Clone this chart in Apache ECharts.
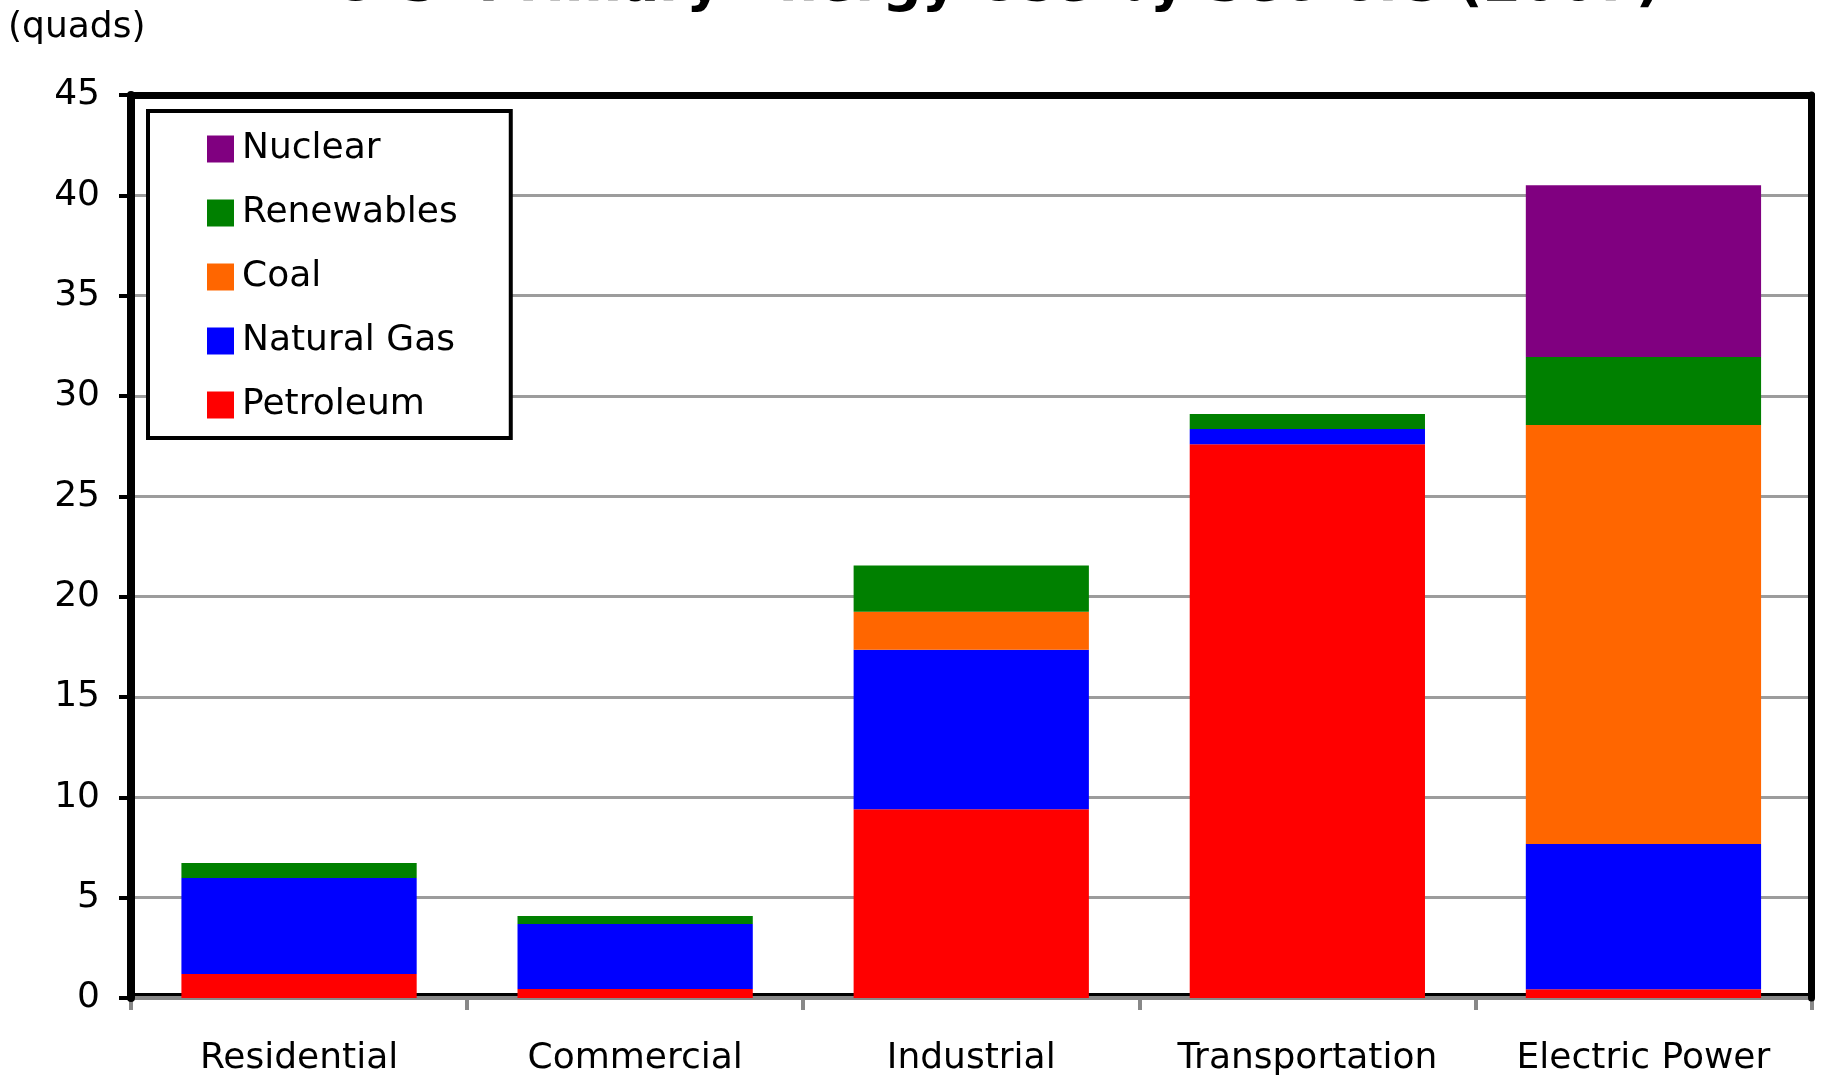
<!DOCTYPE html>
<html>
<head>
<meta charset="utf-8">
<script src="https://cdn.jsdelivr.net/npm/echarts@6/dist/echarts.min.js"></script>
<style>
html,body{margin:0;padding:0;background:#fff;}
#chart{width:1845px;height:1081px;}
</style>
</head>
<body>
<div id="chart"></div>
<script>
const titleText = 'U.S. Primary Energy Use by Sectors (2007)';
const unitText = '(quads)';
const categories = ['Residential', 'Commercial', 'Industrial', 'Transportation', 'Electric Power'];
const petroleum = [1.2, 0.45, 9.4, 27.6, 0.43];
const naturalGas = [4.78, 3.24, 7.95, 0.75, 7.24];
const coal = [0, 0, 1.9, 0, 20.88];
const renewables = [0.75, 0.4, 2.3, 0.75, 3.39];
const nuclear = [0, 0, 0, 0, 8.56];
const legendOrder = ['Nuclear', 'Renewables', 'Coal', 'Natural Gas', 'Petroleum'];

const FONT = '"DejaVu Sans", sans-serif';
const chart = echarts.init(document.getElementById('chart'));

function barSeries(name, data, color) {
  return {
    name: name, type: 'bar', stack: 'total', data: data, barWidth: '70%',
    xAxisIndex: 0, yAxisIndex: 0, z: 2,
    itemStyle: { color: color }, emphasis: { disabled: true }
  };
}

const hidden = { axisTick: { show: false }, axisLabel: { show: false }, splitLine: { show: false } };

chart.setOption({
  animation: false,
  backgroundColor: '#ffffff',
  graphic: [
    { type: 'text', x: 997, y: -14, z: 10,
      style: { text: titleText, font: 'bold 55px ' + FONT, fill: '#000', textAlign: 'center', textVerticalAlign: 'middle' } },
    { type: 'text', x: 8, y: 27.6, z: 10,
      style: { text: unitText, font: '36px ' + FONT, fill: '#000', textAlign: 'left', textVerticalAlign: 'middle' } }
  ],
  grid: { left: 131, right: 33.5, top: 95, bottom: 83, show: false },
  legend: {
    orient: 'vertical', left: 148, top: 111, z: 20,
    data: legendOrder,
    itemWidth: 27, itemHeight: 27, itemGap: 28,
    padding: [20, 53, 15, 59],
    borderColor: '#000', borderWidth: 4, backgroundColor: '#fff',
    icon: 'rect',
    selectedMode: false,
    textStyle: { fontFamily: FONT, fontSize: 36, color: '#000', padding: [3, 0, 0, 3] }
  },
  xAxis: [
    {
      type: 'category', data: categories, position: 'bottom', z: 1,
      axisLine: { show: true, onZero: false, lineStyle: { color: '#888', width: 4 } },
      axisTick: { show: true, interval: 0, length: 12, lineStyle: { color: '#888', width: 4 } },
      axisLabel: { interval: 0, fontFamily: FONT, fontSize: 36, color: '#000', margin: 43 }
    },
    Object.assign({
      type: 'category', data: categories, position: 'bottom', offset: -4, z: 0,
      axisLine: { show: true, onZero: false, lineStyle: { color: '#000', width: 3 } }
    }, hidden),
    Object.assign({
      type: 'category', data: categories, position: 'top', z: 6,
      axisLine: { show: true, onZero: false, lineStyle: { color: '#000', width: 7 } }
    }, hidden)
  ],
  yAxis: [
    {
      type: 'value', min: 0, max: 45, interval: 5, position: 'left', z: 0,
      axisLine: { show: false, onZero: false },
      axisTick: { show: true, length: 12, lineStyle: { color: '#000', width: 4 } },
      axisLabel: { fontFamily: FONT, fontSize: 36, color: '#000', margin: 31, padding: [6, 0, 0, 0] },
      splitLine: { show: true, lineStyle: { color: '#9c9c9c', width: 3 } }
    },
    Object.assign({
      type: 'value', min: 0, max: 45, interval: 5, position: 'left', z: 6,
      axisLine: { show: true, onZero: false, lineStyle: { color: '#000', width: 8 } }
    }, hidden),
    Object.assign({
      type: 'value', min: 0, max: 45, interval: 5, position: 'right', z: 6,
      axisLine: { show: true, onZero: false, lineStyle: { color: '#000', width: 7 } }
    }, hidden)
  ],
  series: [
    barSeries('Petroleum', petroleum, '#FF0000'),
    barSeries('Natural Gas', naturalGas, '#0000FF'),
    barSeries('Coal', coal, '#FF6600'),
    barSeries('Renewables', renewables, '#008000'),
    barSeries('Nuclear', nuclear, '#800080')
  ]
});
</script>
</body>
</html>
